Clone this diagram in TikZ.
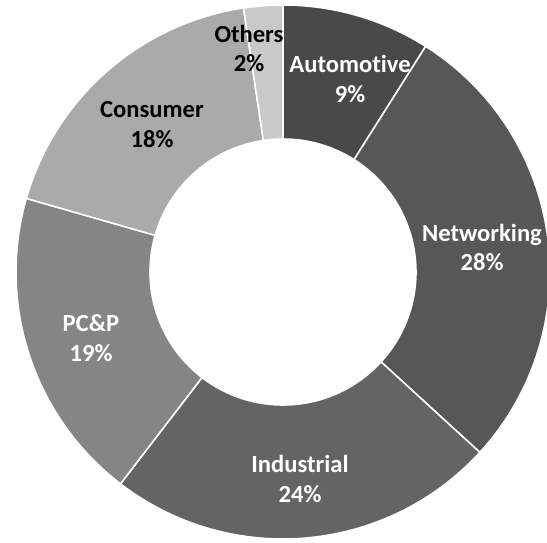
\documentclass[tikz,border=0pt]{standalone}
\usepackage{fontspec}
\setmainfont{Carlito}[Ligatures=NoCommon]

\definecolor{automotive}{HTML}{494949}
\definecolor{networking}{HTML}{575757}
\definecolor{industrial}{HTML}{646464}
\definecolor{pcp}{HTML}{858585}
\definecolor{consumer}{HTML}{AAAAAA}
\definecolor{others}{HTML}{C9C9C9}

\begin{document}
\begin{tikzpicture}[x=0.02cm, y=0.02cm,
  wedge/.style={draw=white, line width=0.9pt},
  lbl/.style={align=center, inner sep=0pt, font=\fontsize{14}{17}\selectfont\bfseries}]

\useasboundingbox (-283,-270) rectangle (264,272);
\clip (-283,-270) rectangle (264,272);

\draw [wedge, fill=automotive]
(90:133)--(90:267) arc [start angle=90, end angle=57.7, radius=267]--(57.7:133) arc [start angle=57.7, end angle=90, radius=133]--cycle;
\draw [wedge, fill=networking]
(57.7:133)--(57.7:267) arc [start angle=57.7, end angle=-42.5, radius=267]--(-42.5:133) arc [start angle=-42.5, end angle=57.7, radius=133]--cycle;
\draw [wedge, fill=industrial]
(-42.5:133)--(-42.5:267) arc [start angle=-42.5, end angle=-127.5, radius=267]--(-127.5:133) arc [start angle=-127.5, end angle=-42.5, radius=133]--cycle;
\draw [wedge, fill=pcp]
(-127.5:133)--(-127.5:267) arc [start angle=-127.5, end angle=-196, radius=267]--(-196:133) arc [start angle=-196, end angle=-127.5, radius=133]--cycle;
\draw [wedge, fill=consumer]
(164:133)--(164:267) arc [start angle=164, end angle=98.5, radius=267]--(98.5:133) arc [start angle=98.5, end angle=164, radius=133]--cycle;
\draw [wedge, fill=others]
(98.5:133)--(98.5:267) arc [start angle=98.5, end angle=90, radius=267]--(90:133) arc [start angle=90, end angle=98.5, radius=133]--cycle;

\node [lbl, white] (automotive) at (67,193) {Automotive\\9\%};
\node [lbl, white] (networking) at (199,24.5) {Networking\\28\%};
\node [lbl, white] (industrial) at (17,-206.8) {Industrial\\24\%};
\node [lbl, white] (pcp) at (-192,-66.3) {PC\&P\\19\%};
\node [lbl, black] (consumer) at (-131,147.8) {Consumer\\18\%};
\node [lbl, black] (others) at (-34,223.5) {Others\\2\%};

\end{tikzpicture}
\end{document}
